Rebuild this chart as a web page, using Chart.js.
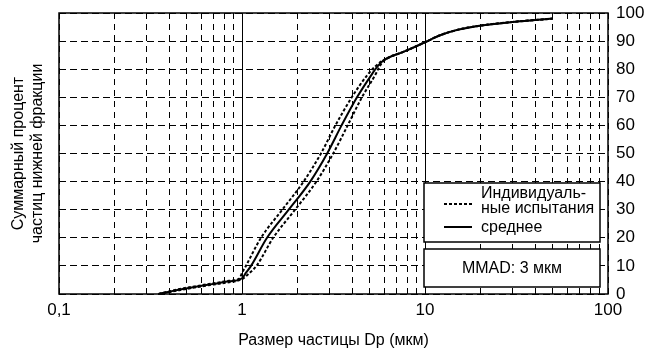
<!DOCTYPE html>
<html>
<head>
<meta charset="utf-8">
<script src="https://cdn.jsdelivr.net/npm/chart.js@4.4.0/dist/chart.umd.min.js"></script>
<style>body{margin:0;background:#fff}</style>
</head>
<body>
<canvas id="psdChart" width="649" height="352"></canvas>
<script>
// cumulative % undersize vs particle size (um)
const meanSize = [0.35, 0.45, 0.55, 0.7, 0.85, 1.0, 1.05, 1.12, 1.37, 1.8, 2.36, 2.92, 3.5, 4.25, 5.1, 5.5, 5.9, 6.5, 7.5, 8.5, 10, 12, 15, 20, 30, 40, 50];
const meanPct  = [0, 1.5, 2.5, 3.6, 4.5, 5.6, 7.5, 10, 20, 30, 40, 50, 60, 70, 78, 81, 83, 84.5, 86, 87.5, 89.6, 92, 94, 95.5, 96.8, 97.5, 98];
const test1Size = [0.35, 0.45, 0.55, 0.7, 0.85, 0.97, 1.0, 1.05, 1.27, 1.66, 2.17, 2.7, 3.24, 3.98, 4.85, 5.35, 5.85, 6.5, 7.5, 8.5, 10, 12, 15, 20, 30, 40, 50];
const test1Pct  = [0, 1.7, 2.7, 3.8, 4.7, 5.6, 7.5, 10, 20, 30, 40, 50, 60, 70, 78, 81, 83, 84.5, 86, 87.5, 89.6, 92, 94, 95.5, 96.8, 97.5, 98];
const test2Size = [0.35, 0.45, 0.55, 0.7, 0.85, 1.0, 1.1, 1.2, 1.48, 1.95, 2.55, 3.15, 3.78, 4.52, 5.35, 5.65, 5.95, 6.5, 7.5, 8.5, 10, 12, 15, 20, 30, 40, 50];
const test2Pct  = [0, 1.3, 2.3, 3.4, 4.2, 5.3, 7.5, 10, 20, 30, 40, 50, 60, 70, 78, 81, 83, 84.5, 86, 87.5, 89.6, 92, 94, 95.5, 96.8, 97.5, 98];

const xTickValues = [0.1, 0.2, 0.3, 0.4, 0.5, 0.6, 0.7, 0.8, 0.9, 1, 2, 3, 4, 5, 6, 7, 8, 9, 10, 20, 30, 40, 50, 60, 70, 80, 90, 100];
const xLabelValues = [0.1, 1, 10, 100];
const legendLines = ['Индивидуаль-', 'ные испытания', 'среднее'];
const mmadText = 'MMAD: 3 мкм';

const FONT = "'Liberation Sans', Arial, sans-serif";
Chart.defaults.font.family = FONT;
Chart.defaults.color = '#000';

function pairs(xs, ys) {
  return xs.map((x, i) => ({ x: x, y: ys[i] }));
}

const framePlugin = {
  id: 'frame',
  beforeDatasetsDraw(chart) {
    const { ctx, chartArea: a, scales: { x } } = chart;
    ctx.save();
    ctx.strokeStyle = '#000';
    ctx.lineWidth = 1;
    // decade lines are solid
    [1, 10].forEach(v => {
      const px = Math.round(x.getPixelForValue(v)) + 0.5;
      ctx.beginPath();
      ctx.moveTo(px, a.top);
      ctx.lineTo(px, a.bottom);
      ctx.stroke();
    });
    ctx.lineWidth = 1.5;
    ctx.strokeRect(a.left, a.top, a.right - a.left, a.bottom - a.top);
    ctx.restore();
  },
  afterDatasetsDraw(chart) {
    const { ctx, chartArea: a } = chart;
    const l = a.right - 184, r = a.right - 8;
    ctx.save();
    ctx.fillStyle = '#fff';
    ctx.strokeStyle = '#000';
    ctx.lineWidth = 1.5;
    // legend box
    const t1 = a.bottom - 111, b1 = a.bottom - 52;
    ctx.fillRect(l, t1, r - l, b1 - t1);
    ctx.strokeRect(l, t1, r - l, b1 - t1);
    // mmad box
    const t2 = a.bottom - 45, b2 = a.bottom - 7;
    ctx.fillRect(l, t2, r - l, b2 - t2);
    ctx.strokeRect(l, t2, r - l, b2 - t2);

    ctx.lineWidth = 2;
    ctx.setLineDash([3, 2]);
    ctx.beginPath(); ctx.moveTo(l + 20, t1 + 21); ctx.lineTo(l + 48, t1 + 21); ctx.stroke();
    ctx.setLineDash([]);
    ctx.beginPath(); ctx.moveTo(l + 20, t1 + 44); ctx.lineTo(l + 48, t1 + 44); ctx.stroke();

    ctx.fillStyle = '#000';
    ctx.font = '16px ' + FONT;
    ctx.textBaseline = 'middle';
    ctx.textAlign = 'left';
    ctx.fillText(legendLines[0], l + 57, t1 + 11);
    ctx.fillText(legendLines[1], l + 57, t1 + 26);
    ctx.fillText(legendLines[2], l + 57, t1 + 45);
    ctx.textAlign = 'center';
    ctx.fillText(mmadText, (l + r) / 2, (t2 + b2) / 2 + 1);
    ctx.restore();
  }
};

const ctxPsd = document.getElementById('psdChart').getContext('2d');
const psdChart = new Chart(ctxPsd, {
  type: 'line',
  data: {
    datasets: [
      { label: 'test 1', data: pairs(test1Size, test1Pct), borderColor: '#000', borderWidth: 2, borderDash: [3, 2], pointRadius: 0, cubicInterpolationMode: 'monotone', clip: false },
      { label: 'test 2', data: pairs(test2Size, test2Pct), borderColor: '#000', borderWidth: 2, borderDash: [3, 2], pointRadius: 0, cubicInterpolationMode: 'monotone', clip: false },
      { label: 'mean', data: pairs(meanSize, meanPct), borderColor: '#000', borderWidth: 2, pointRadius: 0, cubicInterpolationMode: 'monotone', clip: false }
    ]
  },
  options: {
    responsive: false,
    animation: false,
    layout: { padding: { top: 13 } },
    plugins: { legend: { display: false }, tooltip: { enabled: false } },
    scales: {
      x: {
        type: 'logarithmic',
        min: 0.1,
        max: 100,
        afterBuildTicks: s => { s.ticks = xTickValues.map(v => ({ value: v })); },
        afterFit: s => { s.height = 58; },
        ticks: {
          autoSkip: false,
          maxRotation: 0,
          padding: 6,
          font: { size: 17 },
          callback: v => xLabelValues.includes(v) ? String(v).replace('.', ',') : ''
        },
        grid: {
          drawTicks: false,
          color: c => (c.tick && (c.tick.value === 1 || c.tick.value === 10)) ? 'rgba(0,0,0,0)' : '#000',
          lineWidth: 1
        },
        border: { display: false, dash: [6, 5] },
        title: { display: true, text: 'Размер частицы Dp (мкм)', font: { size: 16 }, padding: { top: 2, bottom: 2 } }
      },
      y: {
        position: 'right',
        min: 0,
        max: 100,
        afterFit: s => { s.width = 41; s.paddingTop = 0; s.paddingBottom = 0; },
        ticks: { stepSize: 10, padding: 8, font: { size: 17 } },
        grid: { drawTicks: false, color: '#000', lineWidth: 1 },
        border: { display: false, dash: [7, 4] }
      },
      yL: {
        position: 'left',
        min: 0,
        max: 100,
        afterFit: s => { s.width = 59; s.paddingTop = 0; s.paddingBottom = 0; },
        ticks: { display: false },
        grid: { display: false },
        border: { display: false },
        title: { display: true, text: ['Суммарный процент', 'частиц нижней фракции'], font: { size: 16 }, padding: { top: 9, bottom: 2 } }
      }
    }
  },
  plugins: [framePlugin]
});
</script>
</body>
</html>
